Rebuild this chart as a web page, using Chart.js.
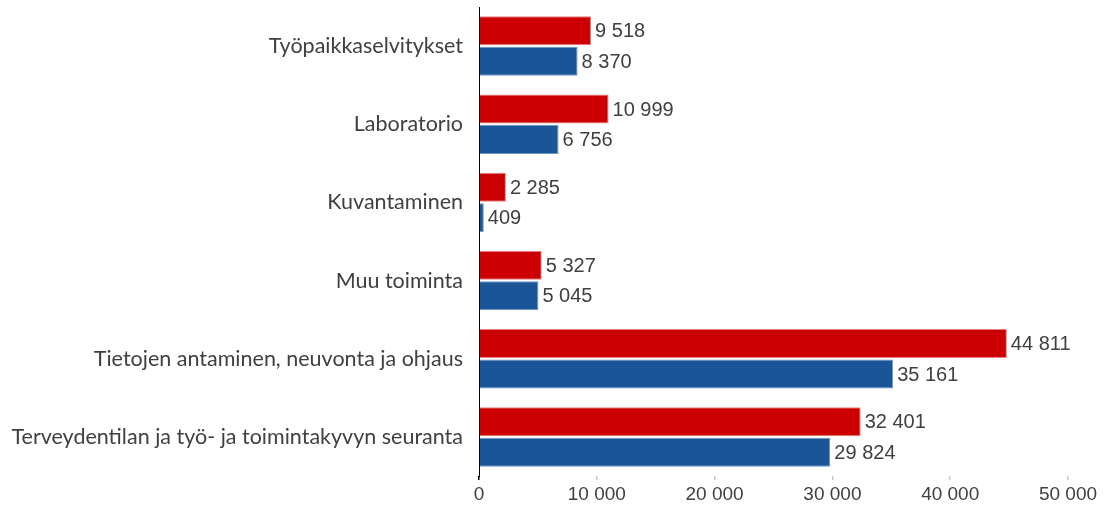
<!DOCTYPE html>
<html><head><meta charset="utf-8">
<script src="https://cdn.jsdelivr.net/npm/chart.js@4"></script>
<style>html,body{margin:0;padding:0;background:#fff}canvas{display:block}</style>
</head><body>
<canvas id="c" width="1107" height="506"></canvas>
<script>
const categories = [
  "Työpaikkaselvitykset",
  "Laboratorio",
  "Kuvantaminen",
  "Muu toiminta",
  "Tietojen antaminen, neuvonta ja ohjaus",
  "Terveydentilan ja työ- ja toimintakyvyn seuranta"
];
const seriesRed = [9518, 10999, 2285, 5327, 44811, 32401];
const seriesBlue = [8370, 6756, 409, 5045, 35161, 29824];
const xTicks = [0, 10000, 20000, 30000, 40000, 50000];

const fmt = v => String(Math.round(v)).replace(/\B(?=(\d{3})+(?!\d))/g, ' ');

const valueLabels = {
  id: 'valueLabels',
  afterDatasetsDraw(chart) {
    const ctx = chart.ctx;
    ctx.save();
    ctx.font = '20px "Liberation Sans", Arial, sans-serif';
    ctx.fillStyle = '#404040';
    ctx.textAlign = 'left';
    ctx.textBaseline = 'middle';
    chart.data.datasets.forEach((ds, i) => {
      chart.getDatasetMeta(i).data.forEach((el, j) => {
        ctx.fillText(fmt(ds.data[j]), el.x + 4, el.y + 1);
      });
    });
    ctx.restore();
  }
};

new Chart(document.getElementById('c'), {
  type: 'bar',
  data: {
    labels: categories,
    datasets: [
      { data: seriesRed, backgroundColor: '#cc0000', borderColor: '#e88080', borderWidth: 1, borderSkipped: 'start' },
      { data: seriesBlue, backgroundColor: '#1a5598', borderColor: '#6f97c4', borderWidth: 1, borderSkipped: 'start' }
    ]
  },
  options: {
    indexAxis: 'y',
    responsive: false,
    animation: false,
    events: [],
    layout: { padding: { top: 7, right: 39, left: 0, bottom: 0 } },
    plugins: { legend: { display: false }, tooltip: { enabled: false } },
    datasets: { bar: { categoryPercentage: 0.78, barPercentage: 0.95 } },
    scales: {
      x: {
        min: 0, max: 50000,
        afterBuildTicks: s => { s.ticks = xTicks.map(v => ({ value: v })); },
        afterFit: s => { s.height = 30; },
        border: { display: false },
        grid: {
          drawOnChartArea: false, drawTicks: true, tickLength: 4,
          color: ctx => ctx.index === 0 ? '#000000' : '#c8c8c8', lineWidth: 1.5
        },
        ticks: {
          color: '#404040', padding: 3,
          font: { family: '"Liberation Sans", Arial, sans-serif', size: 19 },
          callback: v => fmt(v), maxRotation: 0, autoSkip: false
        }
      },
      y: {
        afterFit: s => { s.width = 479; s.paddingTop = 0; s.paddingBottom = 0; },
        border: { display: true, color: '#000000', width: 1 },
        grid: { display: false, drawTicks: false },
        ticks: {
          color: '#404040', padding: 16,
          font: { family: 'Lato, "Open Sans", sans-serif', size: 21.5 }
        }
      }
    }
  },
  plugins: [valueLabels]
});
</script>
</body></html>
